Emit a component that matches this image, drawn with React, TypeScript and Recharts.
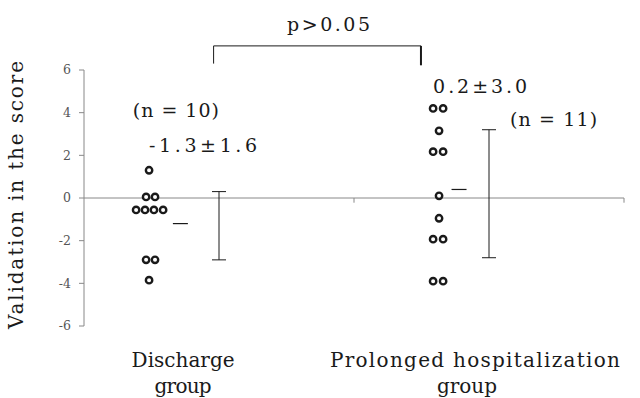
import {
  ScatterChart,
  Scatter,
  XAxis,
  YAxis,
  ErrorBar,
  ReferenceLine,
  ReferenceDot,
} from "recharts";

// individual scores (x = jittered position, group centres at 0.5 and 1.5)
const dischargeX = [0.241, 0.23, 0.263, 0.193, 0.226, 0.259, 0.293, 0.23, 0.263, 0.241];
const dischargeY = [1.3, 0.05, 0.05, -0.56, -0.56, -0.56, -0.56, -2.9, -2.9, -3.85];
const prolongedX = [1.293, 1.33, 1.315, 1.293, 1.33, 1.315, 1.315, 1.293, 1.33, 1.293, 1.33];
const prolongedY = [4.2, 4.2, 3.15, 2.17, 2.17, 0.1, -0.95, -1.93, -1.93, -3.9, -3.9];

// summary (mean ± SD) at group centres
const groupCenters = [0.5, 1.5];
const groupMeans = [-1.3, 0.2];
const groupSds = [1.6, 3.0];
// short horizontal mean marks next to the dots
const meanMarkX = [0.357, 1.389];
const meanMarkY = [-1.2, 0.4];

const groupLabels = [
  ["Discharge", "group"],
  ["Prolonged hospitalization", "group"],
];
const groupLabelPos = [0.367, 1.448];
const yTicks = [-6, -4, -2, 0, 2, 4, 6];

const FONT = "DejaVu Serif";
const INK = "#1a1a1a";
const AXIS = "#888888";

const dischargeData = dischargeX.map((x, i) => ({ x, y: dischargeY[i] }));
const prolongedData = prolongedX.map((x, i) => ({ x, y: prolongedY[i] }));
const summaryData = groupCenters.map((x, i) => ({ x, y: groupMeans[i], sd: groupSds[i] }));
const meanMarks = meanMarkX.map((x, i) => ({ x, y: meanMarkY[i] }));

const labelLayout = [
  { widths: [103, 57], dx: [0, 0] },
  { widths: [290, 60], dx: [0, -8] },
];

const annotations = [
  { text: "(n = 10)", x: 0.181, y: 3.8, w: 86 },
  { text: "-1.3±1.6", x: 0.241, y: 2.16, w: 108 },
  { text: "0.2±3.0", x: 1.293, y: 4.92, w: 94 },
  { text: "(n = 11)", x: 1.578, y: 3.375, w: 87 },
  { text: "p>0.05", x: 0.752, y: 7.83, w: 83 },
];

const Dot = (p: any) => (
  <circle cx={p.cx} cy={p.cy} r={3.2} fill="#fff" stroke={INK} strokeWidth={2.4} />
);

const MeanMark = (p: any) => (
  <line x1={p.cx - 7.5} x2={p.cx + 7.5} y1={p.cy} y2={p.cy} stroke={INK} strokeWidth={1.2} />
);

function GroupTick(props: any) {
  const { x, y, index } = props;
  const lines = groupLabels[index] || [];
  const lay = labelLayout[index];
  return (
    <g>
      {lines.map((t, i) => (
        <text
          key={t}
          x={x + lay.dx[i]}
          y={y + 41 + i * 26}
          textAnchor="middle"
          style={{ fontFamily: FONT, fontSize: 20 }}
          fill={INK}
          textLength={lay.widths[i]}
          lengthAdjust="spacing"
        >
          {t}
        </text>
      ))}
    </g>
  );
}

function YLabel(props: any) {
  const vb = props.viewBox;
  const cx = 16;
  const cy = vb.y + vb.height / 2 - 3;
  return (
    <text
      x={cx}
      y={cy}
      transform={`rotate(-90 ${cx} ${cy})`}
      textAnchor="middle"
      dominantBaseline="central"
      style={{ fontFamily: FONT, fontSize: 20 }}
      fill={INK}
      textLength={268}
      lengthAdjust="spacing"
    >
      Validation in the score
    </text>
  );
}

export default function App() {
  return (
    <div style={{ position: "fixed", left: 0, top: 0, background: "#fff" }}>
      <ScatterChart width={640} height={398} margin={{ top: 70, right: 16, bottom: 0, left: 0 }}>
        <XAxis
          type="number"
          dataKey="x"
          domain={[0, 2]}
          ticks={groupLabelPos}
          allowDataOverflow
          axisLine={false}
          tickLine={false}
          tickSize={0}
          tickMargin={0}
          height={72}
          interval={0}
          tick={<GroupTick />}
        />
        <YAxis
          type="number"
          dataKey="y"
          domain={[-6, 6]}
          ticks={yTicks}
          allowDataOverflow
          width={84}
          stroke={AXIS}
          tickSize={5}
          tickMargin={8}
          tick={{ fill: "#555", fontSize: 12.5, fontFamily: FONT }}
          label={{ content: <YLabel /> }}
        />
        <ReferenceLine y={0} stroke={AXIS} strokeWidth={1} />
        <ReferenceLine segment={[{ x: 1, y: 0 }, { x: 1, y: -0.22 }]} stroke={AXIS} ifOverflow="visible" />
        <ReferenceLine segment={[{ x: 2, y: 0 }, { x: 2, y: -0.22 }]} stroke={AXIS} ifOverflow="visible" />

        {/* significance bracket */}
        <ReferenceLine segment={[{ x: 0.48, y: 7.13 }, { x: 1.248, y: 7.13 }]} stroke={INK} ifOverflow="visible" />
        <ReferenceLine segment={[{ x: 0.48, y: 7.13 }, { x: 0.48, y: 6.3 }]} stroke={INK} ifOverflow="visible" />
        <ReferenceLine segment={[{ x: 1.248, y: 7.13 }, { x: 1.248, y: 6.22 }]} stroke={INK} strokeWidth={2} ifOverflow="visible" />

        <Scatter data={summaryData} shape={() => <g />} isAnimationActive={false}>
          <ErrorBar dataKey="sd" direction="y" width={7} stroke={INK} strokeWidth={1} isAnimationActive={false} />
        </Scatter>
        <Scatter data={meanMarks} shape={MeanMark} isAnimationActive={false} />
        <Scatter data={dischargeData} shape={Dot} isAnimationActive={false} />
        <Scatter data={prolongedData} shape={Dot} isAnimationActive={false} />

        {annotations.map((a) => (
          <ReferenceDot
            key={a.text}
            x={a.x}
            y={a.y}
            r={1}
            ifOverflow="visible"
            shape={(p: any) => (
              <text
                x={p.cx}
                y={p.cy}
                style={{ fontFamily: FONT, fontSize: 19 }}
                fill={INK}
                textLength={a.w}
                lengthAdjust="spacing"
              >
                {a.text}
              </text>
            )}
          />
        ))}
      </ScatterChart>
    </div>
  );
}
